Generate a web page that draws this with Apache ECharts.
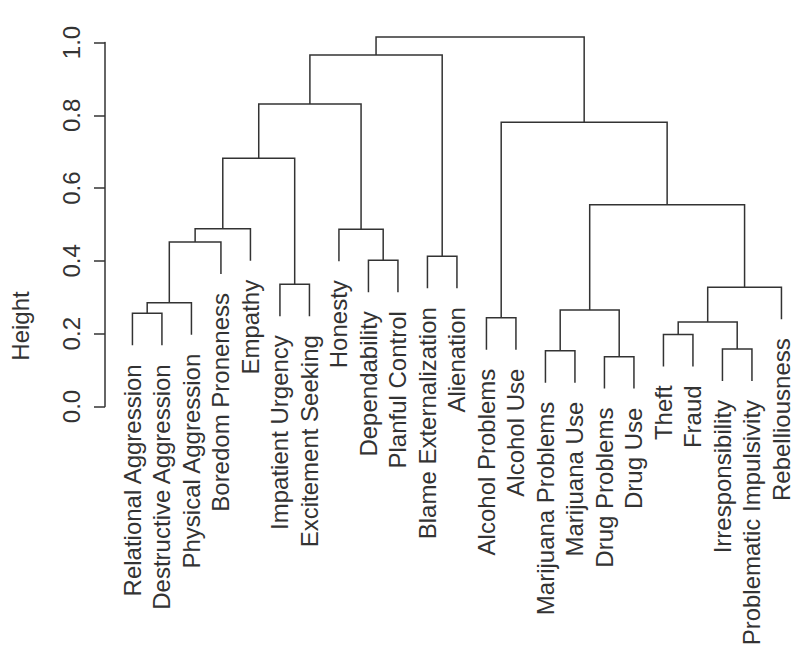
<!DOCTYPE html>
<html>
<head>
<meta charset="utf-8">
<script src="https://cdn.jsdelivr.net/npm/echarts@6/dist/echarts.min.js"></script>
<style>html,body{margin:0;padding:0;background:#fff}#chart{width:800px;height:657px}</style>
</head>
<body>
<div id="chart"></div>
<script>
// Leaves in display order
const leafLabels = [
  'Relational Aggression','Destructive Aggression','Physical Aggression','Boredom Proneness',
  'Empathy','Impatient Urgency','Excitement Seeking','Honesty','Dependability','Planful Control',
  'Blame Externalization','Alienation','Alcohol Problems','Alcohol Use','Marijuana Problems',
  'Marijuana Use','Drug Problems','Drug Use','Theft','Fraud','Irresponsibility',
  'Problematic Impulsivity','Rebelliousness'
];
// Merge table (R hclust style): negative = leaf number, positive = earlier merge number
const mergeLeft  = [-1, 1, 2, 3, -6, 4, -9, -8, 6, -11, 9, -13, -15, -17, 13, -19, -21, 16, 18, 15, 12, 11];
const mergeRight = [-2, -3, -4, -5, -7, 5, -10, 7, 8, -12, 10, -14, -16, -18, 14, -20, -22, 17, -23, 19, 20, 21];
const mergeHeights = [0.256, 0.285, 0.452, 0.488, 0.336, 0.682, 0.402, 0.487, 0.831, 0.413, 0.966,
                      0.244, 0.153, 0.137, 0.265, 0.198, 0.158, 0.232, 0.3275, 0.554, 0.781, 1.015];
const yTicks = [0, 0.2, 0.4, 0.6, 0.8, 1.0];

const hMax = Math.max(...mergeHeights), hMin = Math.min(...mergeHeights);
const hang = 0.1 * (hMax - hMin);
const mergeX = [];
const links = [];
const leafBottoms = [];
function child(c, parentH) {
  if (c < 0) { leafBottoms.push([-c, parentH - hang, -c - 1]); return [-c, parentH - hang]; }
  return [mergeX[c - 1], mergeHeights[c - 1]];
}
for (let i = 0; i < mergeHeights.length; i++) {
  const h = mergeHeights[i];
  const a = child(mergeLeft[i], h), b = child(mergeRight[i], h);
  mergeX[i] = (a[0] + b[0]) / 2;
  links.push([a[0], a[1], b[0], b[1], h]);
}

const FONT = '"Liberation Sans", Arial, Helvetica, sans-serif';
const chart = echarts.init(document.getElementById('chart'), null, {renderer: 'svg'});
chart.setOption({
  animation: false,
  backgroundColor: '#fff',
  grid: {left: 105, right: 9.7, top: 42.5, bottom: 250.5, outerBoundsMode: 'none'},
  xAxis: {type: 'value', min: 0.07, max: 23.3, show: false},
  yAxis: {
    type: 'value', min: 0, max: 1, interval: 0.2,
    axisLine: {show: true, lineStyle: {color: '#333', width: 1.5}},
    axisTick: {show: true, length: 11, lineStyle: {color: '#333', width: 1.5}},
    splitLine: {show: false},
    axisLabel: {rotate: 90, margin: 22, fontSize: 24, fontFamily: FONT, color: '#333',
      formatter: v => v.toFixed(1)}
  },
  graphic: [{
    type: 'text', x: 20, y: 326, rotation: Math.PI / 2,
    style: {text: 'Height', fontSize: 24, fontFamily: FONT, fill: '#333', align: 'center', verticalAlign: 'middle'}
  }],
  series: [{
    type: 'custom',
    clip: false,
    data: links,
    renderItem: (params, api) => {
      const p1 = api.coord([api.value(0), api.value(1)]);
      const p1t = api.coord([api.value(0), api.value(4)]);
      const p2t = api.coord([api.value(2), api.value(4)]);
      const p2 = api.coord([api.value(2), api.value(3)]);
      return {type: 'polyline', shape: {points: [p1, p1t, p2t, p2]},
        style: {stroke: '#333', lineWidth: 1.5, fill: null}};
    }
  }, {
    type: 'custom',
    clip: false,
    data: leafBottoms,
    renderItem: (params, api) => {
      const p = api.coord([api.value(0), api.value(1)]);
      return {type: 'text', x: p[0], y: p[1] + 19, rotation: Math.PI / 2,
        style: {text: leafLabels[api.value(2)], fontSize: 24, fontFamily: FONT, fill: '#333',
          align: 'right', verticalAlign: 'middle'}};
    }
  }]
});
</script>
</body>
</html>
